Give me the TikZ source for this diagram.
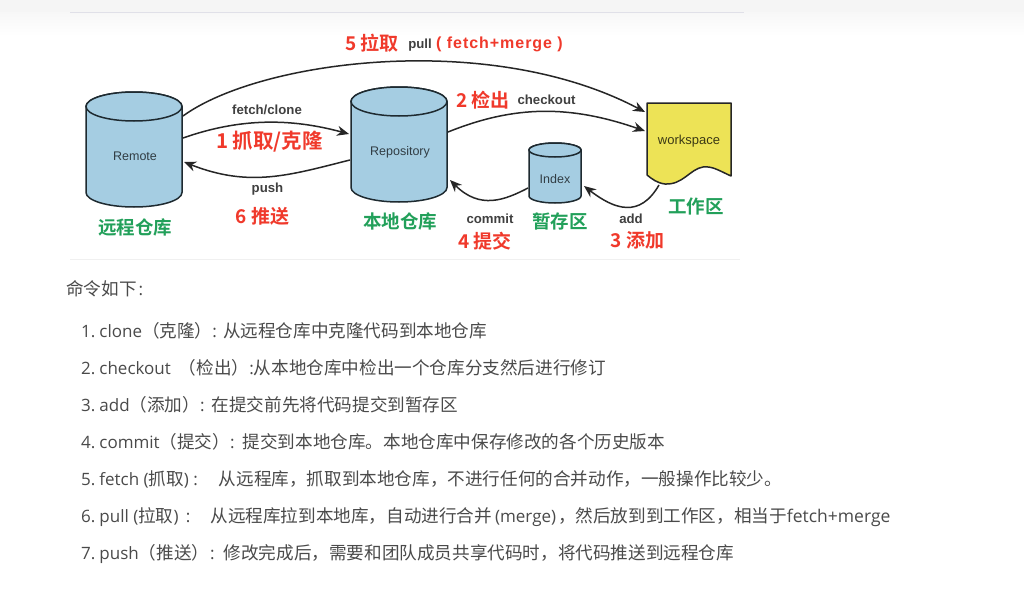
\documentclass[tikz,border=0pt]{standalone}
\usepackage{fontspec}
\setmainfont{Open Sans}
\newfontfamily\cjk{Noto Sans CJK SC}
\newfontfamily\cjkb{Noto Sans CJK SC Bold}
\newfontfamily\lab{Liberation Sans}
\usetikzlibrary{arrows.meta}
\definecolor{cylfill}{HTML}{A5CDE2}
\definecolor{cyledge}{HTML}{1E2A30}
\definecolor{wsfill}{HTML}{EDE356}
\definecolor{redl}{HTML}{F0392B}
\definecolor{greenl}{HTML}{22A05A}
\definecolor{bodyt}{HTML}{4A4A4A}
\newcommand{\zh}[1]{{\fontsize{17.6}{17.6}\cjk #1}}
\newcommand{\dbdraw}[5]{% cx, top y, bottom y, rx, ry
  \draw[dbline] ({#1-#4},{#2+#5}) arc[start angle=180,end angle=360,x radius=#4,y radius=#5]
     -- ({#1+#4},{#3-#5}) arc[start angle=0,end angle=-180,x radius=#4,y radius=-#5] -- cycle;
  \draw[dbline] (#1,{#2+#5}) ellipse[x radius=#4,y radius=#5];
}
\tikzset{
  x=1pt,y=-1pt,
  dbline/.style={draw=cyledge,fill=cylfill,line width=1.5pt},
  dbtext/.style={font=\lab\fontsize{12.5}{12.5}\selectfont,text=black!70!cylfill,inner sep=0pt},
  flow/.style={draw=black!85,line width=1.5pt,-{Stealth[length=12pt,width=10pt]}},
  cmd/.style={font=\lab\bfseries\fontsize{13.2}{13.2}\selectfont,text=black!75,inner sep=0pt},
  red lab/.style={font=\cjkb\fontsize{19}{19}\selectfont,text=redl,inner sep=0pt},
  green lab/.style={font=\cjkb\fontsize{18.5}{18.5}\selectfont,text=greenl,inner sep=0pt},
  body/.style={anchor=base west,inner sep=0pt,text=bodyt,font=\fontsize{17}{17}\selectfont},
}
\begin{document}
\begin{tikzpicture}
\useasboundingbox (0,0) rectangle (1024,602);
\fill[white] (0,0) rectangle (1024,602);
\fill[color=black!4] (0,0) rectangle (1024,13);
\shade[top color=black!3,bottom color=white] (0,13) rectangle (1024,36);
\draw[color=blue!25!black!12,line width=1pt] (70,13) -- (744,13);
\draw[color=black!6,line width=1pt] (70,259.5) -- (740,259.5);
% stores
\dbdraw{134}{92}{207}{48}{14.5}
\dbdraw{399}{87}{202}{48}{14.5}
\dbdraw{555}{143}{203}{26}{7}
\node[dbtext] (remote) at (135,156) {Remote};
\node[dbtext] (repo) at (400,152) {Repository};
\node[dbtext] (index) at (555,179) {Index};
% workspace
\draw[draw=black!85,fill=wsfill,line width=1.5pt,line join=round] (647,103) -- (731,103) -- (731,176)
  .. controls (718,170) and (712,166) .. (703,167)
  .. controls (690,169) and (683,185) .. (665,184)
  .. controls (657,183) and (652,179) .. (647,175) -- cycle;
\node[font=\lab\fontsize{13}{13}\selectfont,text=black!75!wsfill,inner sep=0pt] (ws) at (689,141) {workspace};
\coordinate (wsA) at (645,112);
\coordinate (wsB) at (645,131);
\coordinate (wsC) at (659,185);
\coordinate (rmA) at (183,116);
\coordinate (rmB) at (183,138);
\coordinate (rmC) at (184,162);
\coordinate (rpA) at (349,134);
\coordinate (rpB) at (350,160);
\coordinate (rpC) at (448,132);
\coordinate (rpD) at (450,180);
\coordinate (ixA) at (528,188);
\coordinate (ixB) at (584,186);
% connectors
\draw[flow] (rmA) .. controls (260,60) and (490,30) .. (wsA);
\draw[flow] (rmB) .. controls (240,118) and (290,118) .. (rpA);
\draw[flow] (rpB) .. controls (290,175) and (250,188) .. (rmC);
\draw[flow] (rpC) .. controls (515,105) and (570,105) .. (wsB);
\draw[flow] (ixA) .. controls (505,200) and (480,210) .. (rpD);
\draw[flow] (wsC) .. controls (640,218) and (615,210) .. (ixB);
% labels
\node[red lab] (l5) at (372,43) {5 拉取};
\node[cmd] (pull) at (420,45) {pull};
\node[red lab,font=\lab\bfseries\fontsize{16}{16}\addfontfeature{LetterSpace=6}\selectfont] (fm) at (499.5,44) {( fetch+merge )};
\node[cmd] (fc) at (267,110) {fetch/clone};
\node[red lab,font=\cjkb\fontsize{20.5}{20.5}\selectfont] (l1) at (269.5,142) {1 抓取/克隆};
\node[cmd] (ps) at (267.5,189) {push};
\node[red lab] (l6) at (262.5,216) {6 推送};
\node[red lab] (l2) at (483,100) {2 检出};
\node[cmd] (co) at (546.5,100) {checkout};
\node[cmd] (cm) at (490,219) {commit};
\node[red lab] (l4) at (485,241) {4 提交};
\node[cmd] (ad) at (631,219) {add};
\node[red lab] (l3) at (637.5,240) {3 添加};
\node[green lab] (g1) at (135,227) {远程仓库};
\node[green lab] (g2) at (400,221) {本地仓库};
\node[green lab] (g3) at (560,221) {暂存区};
\node[green lab] (g4) at (696,206) {工作区};
% text
\node[body] (t0) at (66,295) {\zh{命令如下}\hspace{2pt}:};
\node[body] (t1) at (81,337) {1.\hspace{4pt}clone\zh{（克隆）}:\hspace{6pt}\zh{从远程仓库中克隆代码到本地仓库}};
\node[body] (t2) at (81,374) {2.\hspace{4pt}checkout\hspace{8pt}\zh{（检出）}:\zh{从本地仓库中检出一个仓库分支然后进行修订}};
\node[body] (t3) at (81,411) {3.\hspace{4pt}add\zh{（添加）}:\hspace{7pt}\zh{在提交前先将代码提交到暂存区}};
\node[body] (t4) at (81,448) {4.\hspace{4pt}commit\zh{（提交）}:\hspace{8pt}\zh{提交到本地仓库。本地仓库中保存修改的各个历史版本}};
\node[body] (t5) at (81,485) {5.\hspace{4pt}fetch (\zh{抓取}) :\hspace{21pt}\zh{从远程库，抓取到本地仓库，不进行任何的合并动作，一般操作比较少。}};
\node[body] (t6) at (81,522) {6.\hspace{4pt}pull (\zh{拉取}) \hspace{3pt}:\hspace{20pt}\zh{从远程库拉到本地库，自动进行合并}\hspace{3pt}(merge)\hspace{2pt}\zh{，然后放到到工作区，相当于}{\fontsize{17.5}{17.5}\selectfont fetch+merge}};
\node[body] (t7) at (81,559) {7.\hspace{4pt}push\zh{（推送）}\hspace{1pt}:\hspace{9pt}\zh{修改完成后，需要和团队成员共享代码时，将代码推送到远程仓库}};
\end{tikzpicture}
\end{document}
